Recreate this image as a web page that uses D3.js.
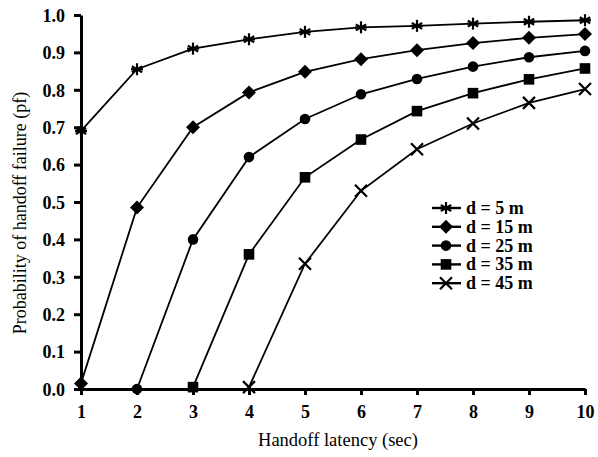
<!DOCTYPE html>
<html>
<head>
<meta charset="utf-8">
<script src="https://cdn.jsdelivr.net/npm/d3@7"></script>
<style>
  html, body { margin: 0; padding: 0; background: #fff; }
  svg { display: block; }
</style>
</head>
<body>
<svg id="chart" width="598" height="457"></svg>
<script>
// Handoff latency (sec)
const latency = [1, 2, 3, 4, 5, 6, 7, 8, 9, 10];

// Probability of handoff failure for each distance; null = no point
const pf5  = [0.69, 0.855, 0.91, 0.935, 0.955, 0.967, 0.971, 0.977, 0.982, 0.986];
const pf15 = [0.015, 0.485, 0.70, 0.793, 0.848, 0.882, 0.906, 0.925, 0.939, 0.949];
const pf25 = [null, 0.0, 0.40, 0.62, 0.722, 0.788, 0.829, 0.862, 0.887, 0.904];
const pf35 = [null, null, 0.005, 0.36, 0.566, 0.667, 0.743, 0.791, 0.828, 0.857];
const pf45 = [null, null, null, 0.005, 0.335, 0.53, 0.641, 0.71, 0.765, 0.802];

const seriesNames = ["d = 5 m", "d = 15 m", "d = 25 m", "d = 35 m", "d = 45 m"];
const seriesValues = [pf5, pf15, pf25, pf35, pf45];
const seriesMarkers = ["asterisk", "diamond", "circle", "square", "cross"];

const yTicks = [0, 0.1, 0.2, 0.3, 0.4, 0.5, 0.6, 0.7, 0.8, 0.9, 1.0];

const svg = d3.select("#chart");
const margin = { left: 81, right: 13, top: 15, bottom: 68 };
const W = 598, H = 457;

const x = d3.scaleLinear().domain([1, 10]).range([margin.left, W - margin.right]);
const y = d3.scaleLinear().domain([0, 1]).range([H - margin.bottom, margin.top]);

const font = "'Liberation Serif', 'Times New Roman', serif";

// axes
const xAxis = svg.append("g")
  .attr("transform", `translate(0,${y(0)})`)
  .call(d3.axisBottom(x).tickValues(latency).tickFormat(d3.format("d")).tickSize(6).tickSizeOuter(0));
const yAxis = svg.append("g")
  .attr("transform", `translate(${x(1)},0)`)
  .call(d3.axisLeft(y).tickValues(yTicks).tickFormat(d3.format(".1f")).tickSize(7).tickSizeOuter(0));

[xAxis, yAxis].forEach(g => {
  g.select(".domain").attr("stroke", "#000").attr("stroke-width", 3);
  g.selectAll(".tick line").attr("stroke", "#000").attr("stroke-width", 3);
  g.selectAll(".tick text")
    .attr("fill", "#000")
    .style("font-family", font)
    .style("font-size", "18px")
    .style("font-weight", "bold");
});
xAxis.selectAll(".tick text").attr("y", 12).attr("dy", "0.95em");
yAxis.selectAll(".tick text").attr("x", -16).attr("dy", "0.35em");

// axis titles
svg.append("text")
  .attr("x", 338)
  .attr("y", 446)
  .attr("text-anchor", "middle")
  .style("font-family", font)
  .style("font-size", "18.5px")
  .text("Handoff latency (sec)");

svg.append("text")
  .attr("transform", `translate(26,213) rotate(-90)`)
  .attr("text-anchor", "middle")
  .style("font-family", font)
  .style("font-size", "18px")
  .text("Probability of handoff failure (pf)");

// marker drawing
function drawMarker(g, type, cx, cy) {
  const s = 6;
  if (type === "asterisk") {
    const p = g.append("g").attr("transform", `translate(${cx},${cy})`)
      .attr("stroke", "#000").attr("stroke-width", 2.2);
    [30, 150].forEach(a => {
      const r = a * Math.PI / 180;
      p.append("line")
        .attr("x1", -s * Math.cos(r)).attr("y1", -s * Math.sin(r))
        .attr("x2", s * Math.cos(r)).attr("y2", s * Math.sin(r));
    });
    p.append("line").attr("x1", 0).attr("y1", -s).attr("x2", 0).attr("y2", s);
    p.append("line").attr("x1", -s).attr("y1", 0).attr("x2", s).attr("y2", 0);
  } else if (type === "diamond") {
    g.append("path").attr("d", `M${cx},${cy - 7}L${cx + 7},${cy}L${cx},${cy + 7}L${cx - 7},${cy}Z`).attr("fill", "#000");
  } else if (type === "circle") {
    g.append("circle").attr("cx", cx).attr("cy", cy).attr("r", 5.3).attr("fill", "#000");
  } else if (type === "square") {
    g.append("rect").attr("x", cx - 5.3).attr("y", cy - 5.3).attr("width", 10.6).attr("height", 10.6).attr("fill", "#000");
  } else if (type === "cross") {
    g.append("path").attr("d", `M${cx - 6},${cy - 6}L${cx + 6},${cy + 6}M${cx - 6},${cy + 6}L${cx + 6},${cy - 6}`)
      .attr("stroke", "#000").attr("stroke-width", 2.2);
  }
}

const line = d3.line()
  .defined(d => d.v !== null)
  .x(d => x(d.t))
  .y(d => y(d.v));

seriesValues.forEach((vals, i) => {
  const pts = latency.map((t, k) => ({ t, v: vals[k] }));
  const g = svg.append("g");
  g.append("path").datum(pts)
    .attr("d", line)
    .attr("fill", "none")
    .attr("stroke", "#000")
    .attr("stroke-width", 1.8);
  pts.filter(d => d.v !== null).forEach(d => drawMarker(g, seriesMarkers[i], x(d.t), y(d.v)));
});

// legend
const legend = svg.append("g");
seriesNames.forEach((name, i) => {
  const ly = 208 + i * 18.8;
  legend.append("line")
    .attr("x1", 432).attr("x2", 461).attr("y1", ly).attr("y2", ly)
    .attr("stroke", "#000").attr("stroke-width", 2.4);
  drawMarker(legend, seriesMarkers[i], 446, ly);
  legend.append("text")
    .attr("x", 466).attr("y", ly + 6)
    .style("font-family", font)
    .style("font-size", "18px")
    .style("font-weight", "bold")
    .text(name);
});
</script>
</body>
</html>
